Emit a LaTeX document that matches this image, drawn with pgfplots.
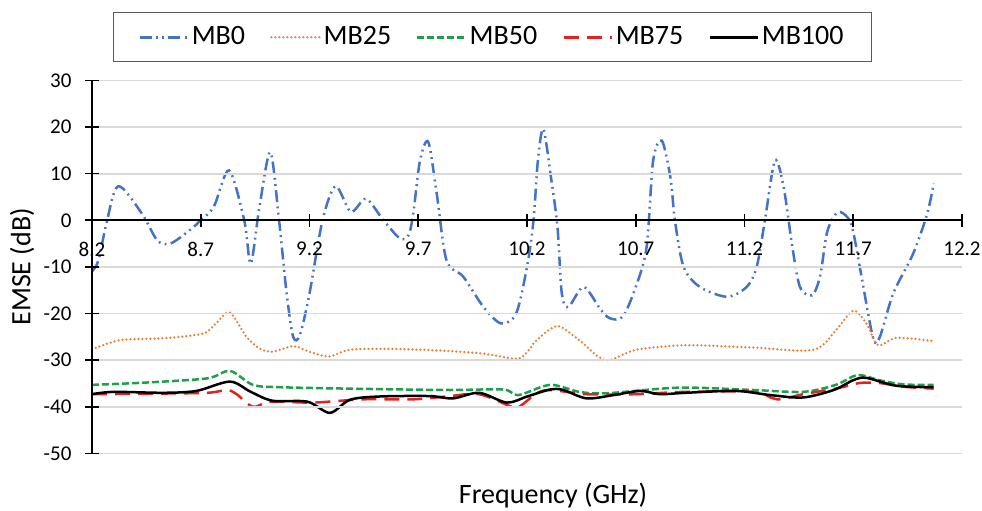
\documentclass[border=0pt]{standalone}
\usepackage{pgfplots}
\pgfplotsset{compat=1.18}
\usepackage{fontspec}
\setmainfont{Carlito}
\definecolor{cBlue}{HTML}{4472C4}
\definecolor{cOrange}{HTML}{ED7D31}
\definecolor{cGreen}{RGB}{30,160,75}
\definecolor{cRed}{RGB}{225,35,35}
\definecolor{cGrid}{RGB}{217,217,217}
\begin{document}
\begin{tikzpicture}
\useasboundingbox (-46pt,-28.3pt) rectangle (445pt,226.7pt);
\begin{axis}[
  at={(0,0)}, anchor=south west,
  scale only axis, width=435pt, height=186.5pt,
  xmin=8.2, xmax=12.2, ymin=-50, ymax=30,
  clip=false, axis on top,
  axis x line=middle, axis y line=left,
  x axis line style={-}, y axis line style={-},
  hide obscured x ticks=false, hide obscured y ticks=false,
  xtick={8.2,8.7,9.2,9.7,10.2,10.7,11.2,11.7,12.2},
  xticklabels={8.2,8.7,9.2,9.7,10.2,10.7,11.2,11.7,12.2},
  ytick={-50,-40,-30,-20,-10,0,10,20,30},
  yticklabels={-50,-40,-30,-20,-10,0,10,20,30},
  ymajorgrids, major grid style={draw=cGrid, line width=0.9pt},
  axis line style={black, line width=0.8pt},
  tick style={black, line width=0.8pt},
  major tick length=6.5pt, tick align=center,
  ticklabel style={font=\fontsize{10.5}{12}\selectfont},
  xticklabel style={yshift=-4pt},
  yticklabel style={xshift=-3.5pt},
  every axis x label/.style={at={(axis description cs:0.53,0)}, anchor=base, yshift=-24.8pt, font=\fontsize{14}{16}\selectfont},
  every axis y label/.style={at={(axis description cs:-0.0805,0.5)}, rotate=90, anchor=center, font=\fontsize{14}{16}\selectfont},
  xlabel={Frequency (GHz)},
  ylabel={EMSE (dB)},
  legend columns=5,
  legend style={at={(0.0238,1.1831)}, anchor=north west, draw=black!65, line width=0.6pt, fill=white,
    font=\fontsize{14}{16}\selectfont, inner xsep=12.5pt, inner ysep=5.5pt,
    nodes={inner sep=1.5pt},
    /tikz/every even column/.append style={column sep=11pt}},
  legend image code/.code={\draw[#1] (0pt,0pt) -- (24pt,0pt);},
  every axis plot/.append style={line width=1.25pt, smooth, tension=0.5},
]
\addplot[cBlue, dash pattern=on 6pt off 2.2pt on 0.9pt off 2.2pt on 0.9pt off 2.2pt] coordinates {
(8.20,-11) (8.23,-8.6) (8.264,-1.2) (8.32,7.3) (8.43,1.4) (8.50,-4.3) (8.56,-5.0) (8.65,-2.1)
(8.70,0) (8.76,2.9) (8.83,10.7) (8.90,0) (8.93,-9.3) (8.97,2.9) (9.02,14.6) (9.06,0)
(9.095,-15.7) (9.125,-25) (9.156,-24.6) (9.20,-15.7) (9.26,0) (9.32,7.3) (9.39,1.8) (9.46,4.6)
(9.54,0) (9.616,-3.9) (9.655,-3.2) (9.677,1.4) (9.708,12.8) (9.746,16.8) (9.785,5.7) (9.83,-8.6)
(9.907,-12.1) (10.0,-18.6) (10.08,-22.1) (10.15,-20) (10.2,-10) (10.23,0) (10.25,12.8) (10.275,19.6)
(10.31,9.3) (10.34,-1.4) (10.36,-15.7) (10.39,-18.6) (10.46,-14.3) (10.535,-18.9) (10.58,-21) (10.64,-20.7)
(10.70,-14.3) (10.75,-5.7) (10.78,12.8) (10.82,17.1) (10.86,9) (10.88,0) (10.92,-10) (10.995,-14.3)
(11.12,-16.4) (11.21,-14.3) (11.256,-10) (11.294,0) (11.34,12.8) (11.38,7.1) (11.42,-5.7) (11.455,-14.3)
(11.51,-16.1) (11.547,-12.1) (11.578,-2.9) (11.61,0.7) (11.64,1.8) (11.69,-0.7) (11.73,-10) (11.79,-25)
(11.82,-25.3) (11.884,-15.7) (11.976,-7.1) (12.04,1.4) (12.07,7.9)
};
\addlegendentry{MB0}
\addplot[cOrange, line cap=round, dash pattern=on 0pt off 2pt] coordinates {
(8.20,-27.7) (8.33,-25.7) (8.53,-25.3) (8.71,-24.3) (8.77,-22.1) (8.834,-19.8) (8.91,-25) (8.97,-27.5)
(9.03,-28.2) (9.126,-27.0) (9.20,-28.2) (9.29,-29.2) (9.40,-27.7) (9.68,-27.7) (9.98,-28.5) (10.15,-29.7)
(10.2,-28.3) (10.245,-25.7) (10.34,-22.7) (10.44,-25.7) (10.56,-30) (10.70,-27.8) (10.93,-26.8) (11.24,-27.3)
(11.516,-27.8) (11.62,-23.6) (11.70,-19.4) (11.76,-22.1) (11.815,-26.8) (11.90,-25.2) (12.07,-25.9)
};
\addlegendentry{MB25}
\addplot[cGreen, dash pattern=on 3.5pt off 1.5pt] coordinates {
(8.20,-35.3) (8.45,-34.8) (8.73,-33.9) (8.834,-32.3) (8.94,-35.3) (9.064,-35.8) (9.37,-36.1) (9.83,-36.4)
(10.09,-36.3) (10.16,-37.5) (10.306,-35.3) (10.44,-36.8) (10.566,-37.1) (10.90,-35.9) (11.24,-36.4) (11.47,-36.8)
(11.62,-35.3) (11.72,-33.2) (11.82,-34.3) (11.93,-35.2) (12.07,-35.3)
};
\addlegendentry{MB50}
\addplot[cRed, dash pattern=on 7.5pt off 4pt] coordinates {
(8.20,-37.3) (8.45,-37.2) (8.73,-37) (8.82,-36.4) (8.865,-37.3) (8.94,-40) (9.02,-38.9) (9.217,-39.1)
(9.447,-38.4) (9.677,-38.4) (9.83,-37.8) (9.98,-37.3) (10.13,-40) (10.17,-39.8) (10.245,-37.1) (10.31,-36.4)
(10.47,-37.3) (10.70,-37.3) (10.93,-36.8) (11.24,-36.8) (11.35,-38.4) (11.47,-37.3) (11.62,-36.1) (11.73,-34.9)
(11.82,-34.9) (11.93,-35.7) (12.07,-36.1)
};
\addlegendentry{MB75}
\addplot[black] coordinates {
(8.20,-37.3) (8.30,-36.8) (8.53,-37) (8.68,-36.6) (8.834,-34.6) (8.93,-36.8) (9.03,-38.7) (9.19,-38.9)
(9.294,-41.3) (9.386,-38.5) (9.52,-37.8) (9.75,-37.7) (9.86,-38.2) (9.98,-37) (10.107,-39.1) (10.2,-37.8)
(10.306,-36.3) (10.367,-36.4) (10.474,-38.2) (10.597,-37.5) (10.72,-36.6) (10.81,-37.3) (10.93,-37) (11.16,-36.6)
(11.32,-37.5) (11.47,-38) (11.61,-36.4) (11.70,-34.3) (11.76,-33.8) (11.90,-35.5) (12.07,-35.8)
};
\addlegendentry{MB100}
\draw[black, line width=0.9pt] (rel axis cs:0,0) -- (rel axis cs:0,1);
\end{axis}
\end{tikzpicture}
\end{document}
